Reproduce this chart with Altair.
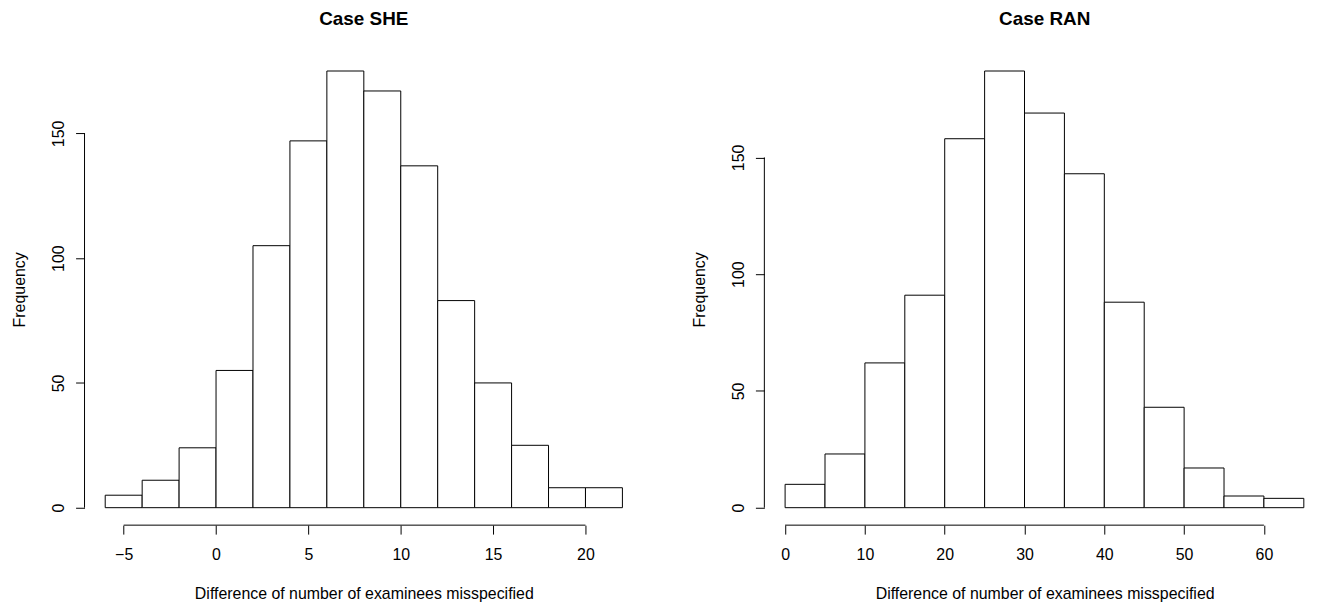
import altair as alt
import pandas as pd

# ---- data ----
she_bin_starts = [-6, -4, -2, 0, 2, 4, 6, 8, 10, 12, 14, 16, 18, 20]
she_counts = [5, 11, 24, 55, 105, 147, 175, 167, 137, 83, 50, 25, 8, 8]
she_bin_width = 2
she_x_ticks = [-5, 0, 5, 10, 15, 20]

ran_bin_starts = [0, 5, 10, 15, 20, 25, 30, 35, 40, 45, 50, 55, 60]
ran_counts = [10, 23, 62, 91, 158, 187, 169, 143, 88, 43, 17, 5, 4]
ran_bin_width = 5
ran_x_ticks = [0, 10, 20, 30, 40, 50, 60]

y_ticks = [0, 50, 100, 150]
x_title = "Difference of number of examinees misspecified"
y_title = "Frequency"

FONT = "Liberation Sans"


def panel(title, starts, counts, bw, xticks, xdom, ydom, w, h, title_dx=0, xtitle_x=None):
    df = pd.DataFrame({
        "start": starts,
        "end": [s + bw for s in starts],
        "count": counts,
    })
    # one-row table for the R-style axis lines (first tick to last tick)
    axis_df = pd.DataFrame({
        "x_lo": [xticks[0]], "x_hi": [xticks[-1]], "x_edge": [xdom[0]],
        "y_lo": [y_ticks[0]], "y_hi": [y_ticks[-1]], "y_edge": [ydom[0]],
    })
    xs = alt.Scale(domain=xdom, nice=False, zero=False)
    ys = alt.Scale(domain=ydom, nice=False, zero=False)
    xaxis_kw = dict(values=xticks, title=x_title, format="d")
    if xtitle_x is not None:
        xaxis_kw["titleX"] = xtitle_x
    bars = alt.Chart(df).mark_rect(fill="white", stroke="black", strokeWidth=1).encode(
        x=alt.X("start:Q", scale=xs, axis=alt.Axis(**xaxis_kw)),
        x2="end:Q",
        y=alt.Y("count:Q", scale=ys, axis=alt.Axis(values=y_ticks, title=y_title, format="d")),
        y2=alt.Y2Datum(0),
    )
    xline = alt.Chart(axis_df).mark_rule(color="black", strokeWidth=1).encode(
        x="x_lo:Q",
        x2="x_hi:Q",
        y="y_edge:Q",
    )
    yline = alt.Chart(axis_df).mark_rule(color="black", strokeWidth=1).encode(
        x="x_edge:Q",
        y="y_lo:Q",
        y2="y_hi:Q",
    )
    return alt.layer(bars, xline, yline).properties(
        width=w, height=h,
        title=alt.TitleParams(title, dx=title_dx),
    )


left = panel("Case SHE", she_bin_starts, she_counts, she_bin_width, she_x_ticks,
             [-7.12, 23.12], [-7, 182], 562, 474.5)
right = panel("Case RAN", ran_bin_starts, ran_counts, ran_bin_width, ran_x_ticks,
              [-2.6, 65.9], [-7.48, 194.48], 550, 474.5, title_dx=7, xtitle_x=282)

chart = alt.hconcat(left, right, spacing=49).properties(
    padding={"left": 4, "top": 0, "right": 0, "bottom": 0}
).configure_axis(
    grid=False,
    domain=False,
    ticks=True,
    tickColor="black",
    tickSize=9,
    tickWidth=1,
    labelColor="black",
    titleColor="black",
    labelFont=FONT,
    titleFont=FONT,
    labelFontSize=16,
    titleFontSize=16,
    titleFontWeight="normal",
).configure_axisLeft(
    labelAngle=270,
    labelAlign="center",
    labelBaseline="bottom",
    labelPadding=9,
    minExtent=38,
    maxExtent=38,
    titlePadding=19,
).configure_axisBottom(
    labelPadding=13,
    minExtent=38,
    maxExtent=38,
    titlePadding=23,
).configure_title(
    font=FONT,
    fontSize=19,
    fontWeight="bold",
    color="black",
    anchor="middle",
    offset=25,
).configure_view(
    strokeWidth=0,
)

chart.save("out.html", embed_options={"renderer": "svg", "actions": False})
